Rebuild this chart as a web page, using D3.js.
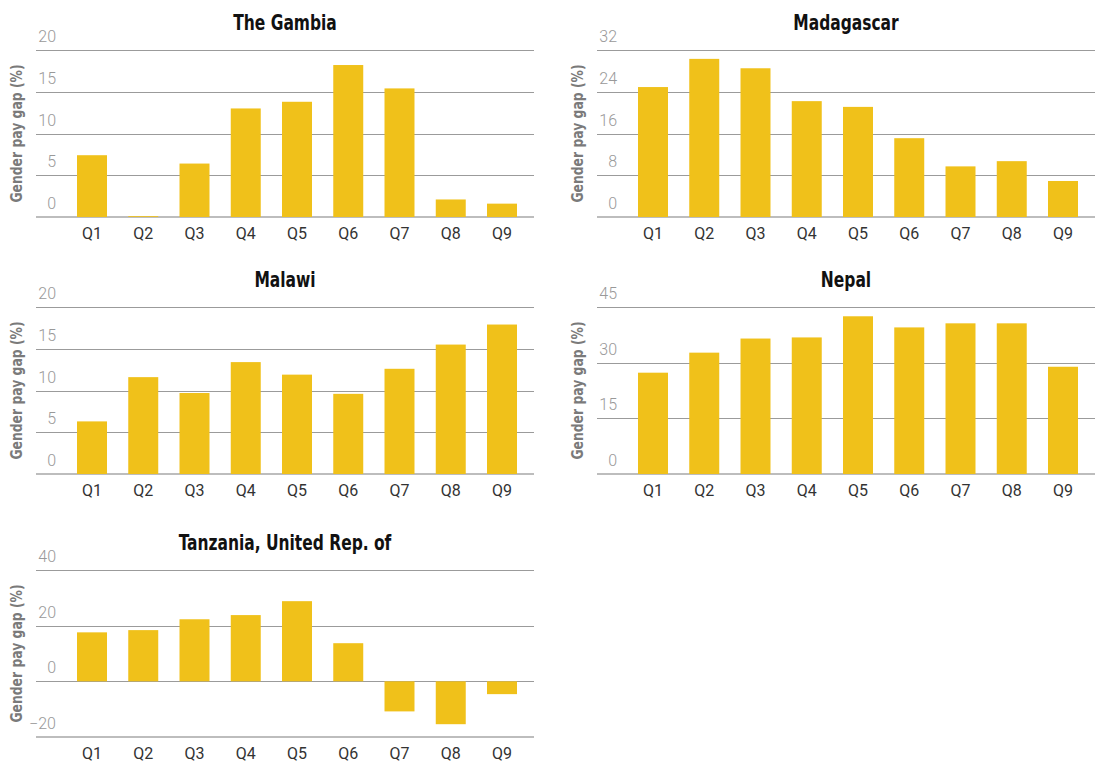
<!DOCTYPE html>
<html>
<head>
<meta charset="utf-8">
<script src="https://cdn.jsdelivr.net/npm/d3@7"></script>
<style>
  html, body { margin: 0; padding: 0; background: #fff; }
  svg { display: block; }
</style>
</head>
<body>
<svg id="chart" width="1095" height="763"></svg>
<script>
// ---- Data ----
const categories = ["Q1", "Q2", "Q3", "Q4", "Q5", "Q6", "Q7", "Q8", "Q9"];

const gambiaValues     = [7.4, 0.1, 6.4, 13.0, 13.8, 18.2, 15.4, 2.1, 1.6];
const madagascarValues = [24.9, 30.3, 28.5, 22.2, 21.1, 15.1, 9.7, 10.7, 6.9];
const malawiValues     = [6.3, 11.6, 9.7, 13.4, 11.9, 9.6, 12.6, 15.5, 17.9];
const nepalValues      = [27.3, 32.7, 36.5, 36.8, 42.5, 39.5, 40.6, 40.6, 28.9];
const tanzaniaValues   = [17.6, 18.4, 22.3, 23.8, 28.8, 13.7, -10.8, -15.4, -4.6];

const gambiaTicks     = [0, 5, 10, 15, 20];
const madagascarTicks = [0, 8, 16, 24, 32];
const malawiTicks     = [0, 5, 10, 15, 20];
const nepalTicks      = [0, 15, 30, 45];
const tanzaniaTicks   = [-20, 0, 20, 40];

const titles = ["The Gambia", "Madagascar", "Malawi", "Nepal", "Tanzania, United Rep. of"];
const yAxisTitle = "Gender pay gap (%)";

const panels = [
  { title: titles[0], values: gambiaValues, ticks: gambiaTicks, col: 0, row: 0 },
  { title: titles[1], values: madagascarValues, ticks: madagascarTicks, col: 1, row: 0 },
  { title: titles[2], values: malawiValues, ticks: malawiTicks, col: 0, row: 1 },
  { title: titles[3], values: nepalValues, ticks: nepalTicks, col: 1, row: 1 },
  { title: titles[4], values: tanzaniaValues, ticks: tanzaniaTicks, col: 0, row: 2 }
];

// ---- Layout ----
const colX = [0, 561];
const rowY = [0, 257, 520];
const plotLeft = 36, plotRight = 534;
const plotTop = 50, plotBottom = 217;
const barColor = "#F0C11A";
const condensed = "'DejaVu Sans Condensed', 'Liberation Sans Narrow', 'Roboto', sans-serif";
const lightFont = "'Roboto', 'Liberation Sans', sans-serif";

const svg = d3.select("#chart");

panels.forEach(p => {
  const g = svg.append("g")
    .attr("transform", `translate(${colX[p.col]},${rowY[p.row]})`);

  const ext = d3.extent(p.ticks);
  const y = d3.scaleLinear().domain(ext).range([plotBottom, plotTop]);

  const step = 51.25;
  const x = d3.scaleBand()
    .domain(categories)
    .range([92 - step / 2, 502 + step / 2])
    .paddingInner(0.415)
    .paddingOuter(0.2075);

  // gridlines
  g.append("g").selectAll("line")
    .data(p.ticks.filter(t => t !== ext[0]))
    .join("line")
    .attr("x1", plotLeft).attr("x2", plotRight)
    .attr("y1", d => Math.round(y(d)) + 0.5).attr("y2", d => Math.round(y(d)) + 0.5)
    .attr("stroke", "#9b9b9b").attr("stroke-width", 1);

  // bottom axis line
  g.append("line")
    .attr("x1", plotLeft).attr("x2", plotRight)
    .attr("y1", y(ext[0])).attr("y2", y(ext[0]))
    .attr("stroke", "#bdbdbd").attr("stroke-width", 2);

  // tick labels
  const fmt = d3.format("");
  g.append("g").selectAll("text")
    .data(p.ticks)
    .join("text")
    .attr("x", plotLeft + 20)
    .attr("y", d => y(d) - 8)
    .attr("text-anchor", "end")
    .attr("font-family", lightFont)
    .attr("font-weight", 300)
    .attr("font-size", 16)
    .attr("fill", "#999")
    .text(d => fmt(d));

  // bars
  g.append("g").selectAll("rect")
    .data(p.values)
    .join("rect")
    .attr("x", (d, i) => x(categories[i]))
    .attr("width", x.bandwidth())
    .attr("y", d => y(Math.max(0, d)))
    .attr("height", d => Math.abs(y(d) - y(0)))
    .attr("fill", barColor);

  // category labels
  g.append("g").selectAll("text")
    .data(categories)
    .join("text")
    .attr("x", d => x(d) + x.bandwidth() / 2)
    .attr("y", plotBottom + 22)
    .attr("text-anchor", "middle")
    .attr("font-family", lightFont)
    .attr("font-size", 16)
    .attr("fill", "#333")
    .text(d => d);

  // title
  g.append("text")
    .attr("transform", `translate(${(plotLeft + plotRight) / 2},30) scale(0.82,1)`)
    .attr("text-anchor", "middle")
    .attr("font-family", condensed)
    .attr("font-weight", "bold")
    .attr("font-size", 21)
    .attr("fill", "#111")
    .text(p.title);

  // y axis title
  g.append("text")
    .attr("transform", `translate(22,${(plotTop + plotBottom) / 2}) rotate(-90) scale(0.86,1)`)
    .attr("text-anchor", "middle")
    .attr("font-family", condensed)
    .attr("font-weight", "bold")
    .attr("font-size", 16)
    .attr("fill", "#7a7a7a")
    .text(yAxisTitle);
});
</script>
</body>
</html>
